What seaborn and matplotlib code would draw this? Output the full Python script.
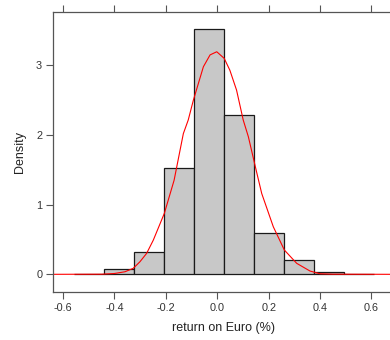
import matplotlib
matplotlib.use("Agg")
import matplotlib.pyplot as plt
import seaborn as sns
import numpy as np
import pandas as pd

# Histogram data (density)
bin_edges = [-0.558, -0.4412, -0.3244, -0.2076, -0.0908, 0.026, 0.1428, 0.2596, 0.3764, 0.4932, 0.610]
bin_heights = [0.01, 0.08, 0.32, 1.53, 3.52, 2.29, 0.59, 0.205, 0.028, 0.01]

# Density curve
curve_x = [-0.66, -0.45, -0.40, -0.359, -0.327, -0.301, -0.275, -0.249, -0.206, -0.168,
           -0.132, -0.113, -0.093, -0.054, -0.028, -0.002, 0.027, 0.049, 0.075, 0.101,
           0.121, 0.151, 0.173, 0.218, 0.261, 0.309, 0.361, 0.40, 0.45, 0.70]
curve_y = [0.0, 0.002, 0.012, 0.037, 0.086, 0.18, 0.30, 0.49, 0.875, 1.35,
           2.02, 2.215, 2.50, 2.98, 3.15, 3.195, 3.10, 2.93, 2.645, 2.215,
           1.975, 1.50, 1.16, 0.683, 0.349, 0.158, 0.047, 0.008, 0.002, 0.0]

x_ticks = [-0.6, -0.4, -0.2, 0.0, 0.2, 0.4, 0.6]
x_ticklabels = ["-0.6", "-0.4", "-0.2", "0.0", "0.2", "0.4", "0.6"]
y_ticks = [0, 1, 2, 3]
x_label = "return on Euro (%)"
y_label = "Density"

sns.set_style("white")
plt.rcParams['font.family'] = ['Liberation Sans', 'DejaVu Sans']

axis_col = "#555555"
text_col = "#333333"

fig = plt.figure(figsize=(3.9, 3.4), dpi=100)
ax = fig.add_axes([53.3 / 390, (340 - 292.3) / 340, 341.3 / 390, (292.3 - 11.7) / 340])

centers = [(bin_edges[i] + bin_edges[i + 1]) / 2 for i in range(len(bin_heights))]
hist_df = pd.DataFrame({"x": centers, "w": bin_heights})
sns.histplot(data=hist_df, x="x", weights="w", bins=bin_edges, stat="count",
             color="#C8C8C8", edgecolor="#1a1a1a", linewidth=0.9, alpha=1.0, ax=ax)

curve_df = pd.DataFrame({"x": curve_x, "y": curve_y})
sns.lineplot(data=curve_df, x="x", y="y", color="red", linewidth=0.8,
             sort=False, estimator=None, ax=ax)

ax.set_xlim(-0.638, 0.69)
ax.set_ylim(-0.258, 3.77)
ax.set_xticks(x_ticks)
ax.set_xticklabels(x_ticklabels)
ax.set_yticks(y_ticks)

ax.tick_params(axis="x", which="both", bottom=True, top=True, labelbottom=True, labeltop=False,
               direction="out", length=5, width=0.8, color=axis_col, labelcolor=text_col,
               labelsize=7.8, pad=3)
ax.tick_params(axis="y", which="both", left=True, right=False, direction="out", length=5,
               width=0.8, color=axis_col, labelcolor=text_col, labelsize=7.8, pad=3)
for sp in ax.spines.values():
    sp.set_color(axis_col)
    sp.set_linewidth(0.9)

ax.set_xlabel(x_label, fontsize=9, color="#222222", labelpad=6)
ax.set_ylabel(y_label, fontsize=9, color="#222222", labelpad=7)

fig.savefig("out.png", dpi=100)
